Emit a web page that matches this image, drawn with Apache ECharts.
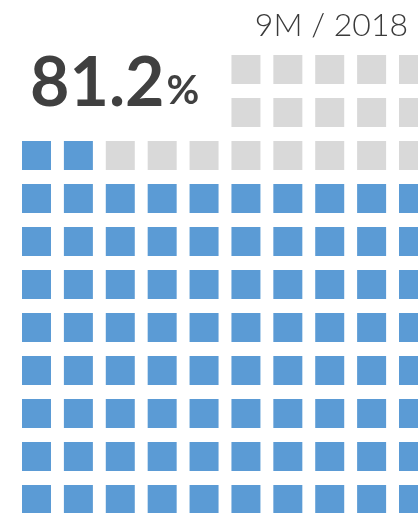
<!DOCTYPE html>
<html>
<head>
<meta charset="utf-8">
<script src="https://cdn.jsdelivr.net/npm/echarts@6/dist/echarts.min.js"></script>
<style>
  html, body { margin: 0; padding: 0; background: #fff; }
  #main { width: 418px; height: 513px; }
</style>
</head>
<body>
<div id="main"></div>
<script>
// headline numbers
const shareValue = '81.2'
const shareUnit = '%'
const periodLabel = '9M / 2018'

// waffle layout read row by row: x = filled, o = empty, - = no cell
const waffleRows = [
  '-----ooooo',
  '-----ooooo',
  'xxoooooooo',
  'xxxxxxxxxx',
  'xxxxxxxxxx',
  'xxxxxxxxxx',
  'xxxxxxxxxx',
  'xxxxxxxxxx',
  'xxxxxxxxxx',
  'xxxxxxxxxx',
  'xxxxxxxxxx'
]

const filledCells = []
const emptyCells = []
waffleRows.forEach((row, r) => {
  row.split('').forEach((c, col) => {
    if (c === 'x') filledCells.push([col, r])
    else if (c === 'o') emptyCells.push([col, r])
  })
})

const chart = echarts.init(document.getElementById('main'))

const cellSeries = (name, data, color) => ({
  name,
  type: 'scatter',
  data,
  symbol: 'rect',
  symbolSize: [29, 29],
  silent: true,
  itemStyle: { color, opacity: 1 },
  animation: false
})

chart.setOption({
  grid: { left: 36.5, top: 69.5, width: 377, height: 430 },
  xAxis: { type: 'value', min: 0, max: 9, show: false },
  yAxis: { type: 'value', min: 0, max: 10, inverse: true, show: false },
  series: [
    cellSeries('filled', filledCells, '#5B9BD5'),
    cellSeries('empty', emptyCells, '#D9D9D9')
  ],
  graphic: [
    {
      type: 'text',
      left: 30,
      top: 50,
      style: {
        text: '{a|' + shareValue + '}{b|' + shareUnit + '}',
        rich: {
          a: { fontFamily: 'Lato', fontWeight: 'bold', fontSize: 68, fill: '#404040' },
          b: { fontFamily: 'Lato', fontWeight: 'bold', fontSize: 40, fill: '#404040', padding: [14, 0, 0, 2] }
        }
      }
    },
    {
      type: 'text',
      right: 10,
      top: 10,
      style: {
        text: periodLabel,
        fontFamily: 'Lato',
        fontWeight: 300,
        fontSize: 32,
        fill: '#3a3a3a'
      }
    }
  ]
})
</script>
</body>
</html>
